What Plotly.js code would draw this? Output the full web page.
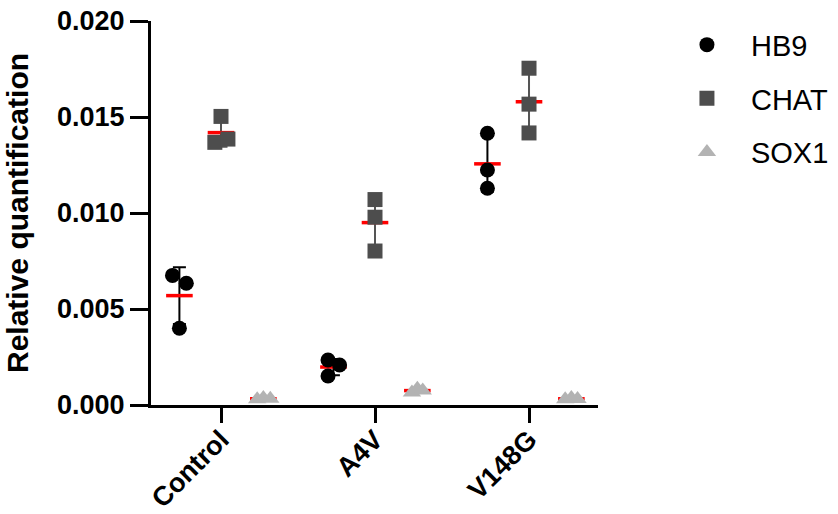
<!DOCTYPE html>
<html>
<head>
<meta charset="utf-8">
<script src="https://cdn.plot.ly/plotly-3.0.1.min.js"></script>
<style>html,body{margin:0;padding:0;background:#fff;}#chart{width:838px;height:514px;}</style>
</head>
<body>
<div id="chart"></div>
<script>
// Categories (x positions 0,1,2)
const categories = ["Control", "A4V", "V148G"];
const seriesNames = ["HB9", "CHAT", "SOX1"];

// Replicate values per category (3 replicates each)
const hb9Values = [
  [0.00675, 0.00634, 0.00400],
  [0.00234, 0.00208, 0.00151],
  [0.01415, 0.01224, 0.01129]
];
const chatValues = [
  [0.01503, 0.01368, 0.01385],
  [0.01070, 0.00978, 0.00802],
  [0.01754, 0.01567, 0.01417]
];
const sox1Values = [
  [0.00030, 0.00036, 0.00032],
  [0.00065, 0.00085, 0.00075],
  [0.00030, 0.00036, 0.00031]
];

// Horizontal scatter of replicate points (in category units)
const hb9Jitter  = [[-0.045, 0.045, 0], [-0.035, 0.04, -0.035], [0, 0, 0]];
const chatJitter = [[0, -0.04, 0.045], [0, 0, 0], [0, 0, 0]];
const sox1Jitter = [[-0.04, 0, 0.045], [-0.035, 0, 0.035], [-0.04, 0, 0.04]];

const groupOffset = {HB9: -0.27, CHAT: 0.0, SOX1: 0.275};

const styles = {
  HB9:  {symbol: "circle", color: "#000000", err: "#000000", size: 15},
  CHAT: {symbol: "square", color: "#4d4d4d", err: "#555555", size: 15},
  SOX1: {symbol: "triangle-up", color: "#b3b3b3", err: "#b3b3b3", size: 16}
};

function mean(a){ return a.reduce((s,v)=>s+v,0)/a.length; }
function sd(a){ const m=mean(a); return Math.sqrt(a.reduce((s,v)=>s+(v-m)*(v-m),0)/(a.length-1)); }

const allSeries = [
  {name: "HB9", values: hb9Values, jitter: hb9Jitter},
  {name: "CHAT", values: chatValues, jitter: chatJitter},
  {name: "SOX1", values: sox1Values, jitter: sox1Jitter}
];

const traces = [];
allSeries.forEach(s => {
  const st = styles[s.name];
  const off = groupOffset[s.name];
  // mean + SD
  traces.push({
    type: "scatter", mode: "markers", showlegend: false, hoverinfo: "skip",
    legendgroup: s.name,
    x: categories.map((c,i)=>i+off),
    y: s.values.map(mean),
    marker: {symbol: "line-ew", size: 19, color: "#ff0000", line: {color: "#ff0000", width: 3.5}},
    error_y: {type: "data", array: s.values.map(sd), visible: true, color: st.err, thickness: 2, width: 6.5}
  });
});
allSeries.forEach(s => {
  const st = styles[s.name];
  const off = groupOffset[s.name];
  const xs = [], ys = [];
  s.values.forEach((arr,i)=>arr.forEach((v,j)=>{ xs.push(i+off+s.jitter[i][j]); ys.push(v); }));
  traces.push({
    type: "scatter", mode: "markers", name: s.name, legendgroup: s.name,
    x: xs, y: ys,
    marker: {symbol: st.symbol, size: st.size, color: st.color, line: {width: 0}}
  });
});

const layout = {
  width: 838, height: 514,
  margin: {l: 151, r: 240, t: 21, b: 109},
  paper_bgcolor: "#ffffff", plot_bgcolor: "#ffffff",
  font: {family: "Liberation Sans, Arial, sans-serif", color: "#000"},
  xaxis: {
    range: [-0.4545, 2.448], tickvals: [0,1,2], ticktext: categories,
    tickangle: -45, showgrid: false, zeroline: false,
    showline: true, linecolor: "#000", linewidth: 3,
    ticks: "outside", ticklen: 15, tickwidth: 3, tickcolor: "#000",
    ticklabelstandoff: -10,
    tickfont: {size: 27, family: "Liberation Sans, Arial, sans-serif", weight: "bold", color: "#000"}
  },
  yaxis: {
    range: [0, 0.020], tickvals: [0, 0.005, 0.010, 0.015, 0.020],
    ticktext: ["0.000", "0.005", "0.010", "0.015", "0.020"],
    showgrid: false, zeroline: false,
    showline: true, linecolor: "#000", linewidth: 3,
    ticks: "outside", ticklen: 18, tickwidth: 3, tickcolor: "#000",
    tickfont: {size: 27, family: "Liberation Sans, Arial, sans-serif", weight: "bold", color: "#000"},
    title: {text: "Relative quantification", standoff: 20,
      font: {size: 30, family: "Liberation Sans, Arial, sans-serif", weight: "bold", color: "#000"}}
  },
  legend: {
    xref: "container", yref: "container",
    x: 0.7911, y: 0.9625, xanchor: "left", yanchor: "top",
    itemwidth: 78, tracegroupgap: 13, traceorder: "grouped",
    font: {size: 29, family: "Liberation Sans, Arial, sans-serif", color: "#000"},
    bgcolor: "rgba(0,0,0,0)"
  }
};

Plotly.newPlot("chart", traces, layout, {displayModeBar: false, staticPlot: true});
</script>
</body>
</html>
